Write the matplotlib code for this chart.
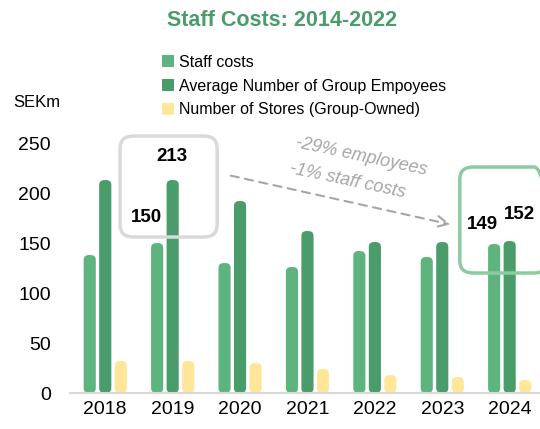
import matplotlib
matplotlib.use("Agg")
import matplotlib.pyplot as plt
import numpy as np
from matplotlib.patches import FancyBboxPatch, Patch

years = ["2018", "2019", "2020", "2021", "2022", "2023", "2024"]
staff_costs = [138, 150, 130, 126, 142, 136, 149]
employees = [213, 213, 192, 162, 151, 151, 152]
stores = [32, 32, 30, 24, 18, 16, 13]

labels = ["Staff costs", "Average Number of Group Empoyees", "Number of Stores (Group-Owned)"]
colors = ["#5eb47f", "#4a9c6b", "#ffe699"]

plt.rcParams['font.family'] = ['Liberation Sans', 'DejaVu Sans']

fig = plt.figure(figsize=(5.4, 4.29), dpi=100)
ax = fig.add_axes([0.13, 0.0839, 0.87, 0.606])

x = np.arange(len(years))
w = 0.18
off = 0.23

def rounded_bars(xpos, vals, color):
	bars = ax.bar(xpos, vals, width=w, color=color)
	for b in bars:
		bx, by = b.get_x(), b.get_y()
		bw, bh = b.get_width(), b.get_height()
		p = FancyBboxPatch((bx, by), bw, bh, boxstyle="round,pad=0,rounding_size=0.08",
			mutation_aspect=60, facecolor=color, edgecolor="none")
		ax.add_patch(p)
		b.set_visible(False)

rounded_bars(x - off, staff_costs, colors[0])
rounded_bars(x, employees, colors[1])
rounded_bars(x + off, stores, colors[2])

ax.set_xlim(-0.52, 6.45)
ax.set_ylim(0, 260)
ax.set_yticks([0, 50, 100, 150, 200, 250])
ax.set_xticks(x)
ax.set_xticklabels(years)
ax.tick_params(axis='both', length=0, labelsize=14, pad=6)
ax.tick_params(axis='y', pad=14)
for s in ["top", "right", "left"]:
	ax.spines[s].set_visible(False)
ax.spines["bottom"].set_color("#d9d9d9")
ax.spines["bottom"].set_linewidth(1.5)

# highlight boxes
ax.add_patch(FancyBboxPatch((0.22, 156), 1.44, 101, boxstyle="round,pad=0,rounding_size=0.2",
	mutation_aspect=60, facecolor="none", edgecolor="#d9d9d9", linewidth=2.5, clip_on=False))
ax.add_patch(FancyBboxPatch((5.26, 120), 1.3, 106, boxstyle="round,pad=0,rounding_size=0.2",
	mutation_aspect=60, facecolor="none", edgecolor="#8ccaa0", linewidth=2.5, clip_on=False))

ax.text(0.99, 237, "213", fontsize=13.5, fontweight='bold', ha='center', va='center')
ax.text(0.61, 176, "150", fontsize=13.5, fontweight='bold', ha='center', va='center')
ax.text(5.6, 169, "149", fontsize=13.5, fontweight='bold', ha='center', va='center')
ax.text(6.15, 179, "152", fontsize=13.5, fontweight='bold', ha='center', va='center')

ax.annotate("", xy=(5.16, 168), xytext=(1.82, 218),
	arrowprops=dict(arrowstyle="->,head_length=0.8,head_width=0.4", color="#a6a6a6",
		linestyle=(0, (4, 3)), linewidth=1.5))
ax.text(3.80, 236, "-29% employees", fontsize=13, style='italic', color="#a6a6a6",
	rotation=-12, ha='center', va='center', rotation_mode='anchor')
ax.text(3.60, 212, "-1% staff costs", fontsize=13, style='italic', color="#a6a6a6",
	rotation=-12, ha='center', va='center', rotation_mode='anchor')

fig.text(0.522, 0.953, "Staff Costs: 2014-2022", fontsize=15.5, fontweight='bold',
	color="#4a9c6b", ha='center', va='center')
fig.text(0.024, 0.76, "SEKm", fontsize=12, ha='left', va='center')

handles = [Patch(facecolor=c, edgecolor='none') for c in colors]
fig.legend(handles, labels, loc='upper left', bbox_to_anchor=(0.30, 0.872), frameon=False,
	fontsize=11.5, handlelength=0.75, handleheight=0.75, handletextpad=0.3, labelspacing=0.55,
	borderpad=0, borderaxespad=0)

fig.savefig("out.png", dpi=100)
